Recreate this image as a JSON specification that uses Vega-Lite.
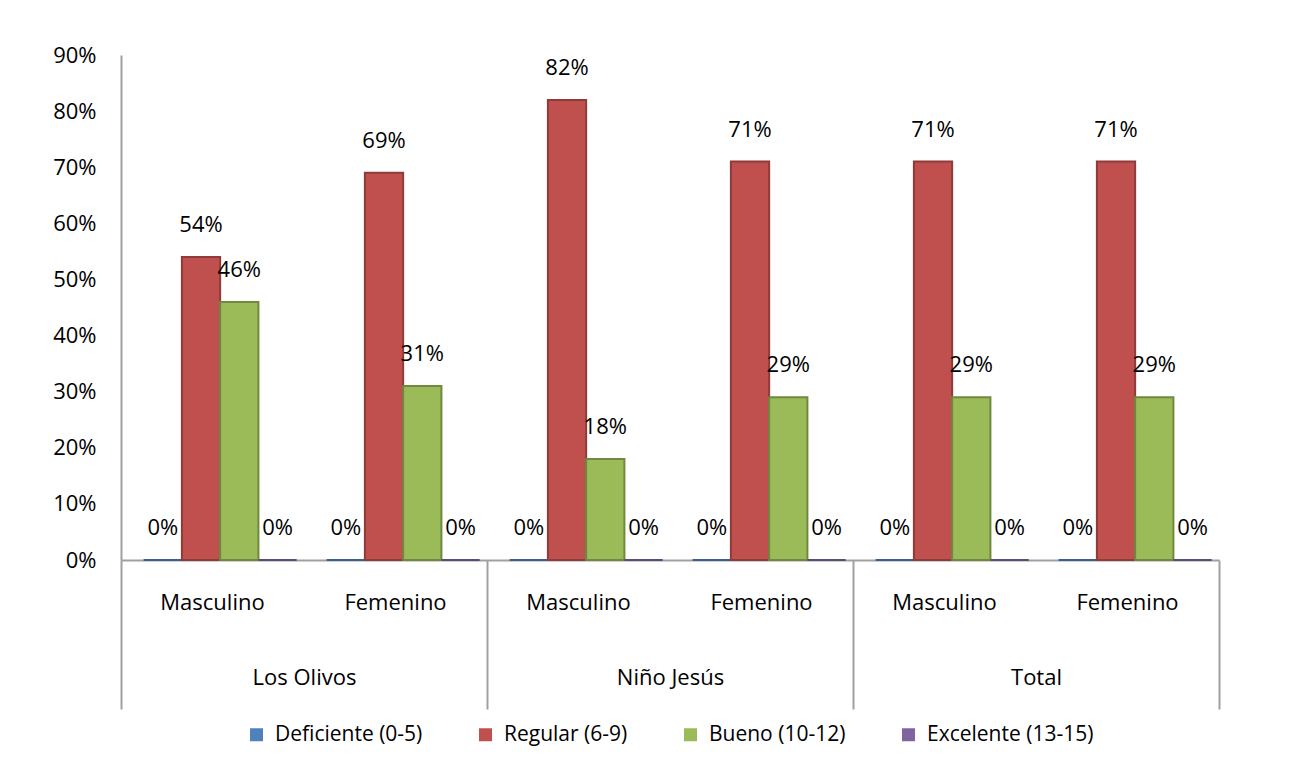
{
  "$schema": "https://vega.github.io/schema/vega-lite/v6.json",
  "width": 1098,
  "height": 505,
  "padding": {"left": 52, "top": 44, "right": 70, "bottom": 10},
  "config": {
    "view": {"stroke": null},
    "font": "Open Sans",
    "axis": {"labelColor": "#000000", "labelFontSize": 22, "labelFont": "Open Sans"},
    "legend": {"layout": {"bottom": {"anchor": "middle"}}}
  },
  "data": {
    "values": [
      {"grupo": "Los Olivos", "sexo": "Masculino", "barra": "Los Olivos|Masculino", "serie": "Deficiente (0-5)", "valor": 0},
      {"grupo": "Los Olivos", "sexo": "Masculino", "barra": "Los Olivos|Masculino", "serie": "Regular (6-9)", "valor": 0.54},
      {"grupo": "Los Olivos", "sexo": "Masculino", "barra": "Los Olivos|Masculino", "serie": "Bueno (10-12)", "valor": 0.46},
      {"grupo": "Los Olivos", "sexo": "Masculino", "barra": "Los Olivos|Masculino", "serie": "Excelente (13-15)", "valor": 0},
      {"grupo": "Los Olivos", "sexo": "Femenino", "barra": "Los Olivos|Femenino", "serie": "Deficiente (0-5)", "valor": 0},
      {"grupo": "Los Olivos", "sexo": "Femenino", "barra": "Los Olivos|Femenino", "serie": "Regular (6-9)", "valor": 0.69},
      {"grupo": "Los Olivos", "sexo": "Femenino", "barra": "Los Olivos|Femenino", "serie": "Bueno (10-12)", "valor": 0.31},
      {"grupo": "Los Olivos", "sexo": "Femenino", "barra": "Los Olivos|Femenino", "serie": "Excelente (13-15)", "valor": 0},
      {"grupo": "Niño Jesús", "sexo": "Masculino", "barra": "Niño Jesús|Masculino", "serie": "Deficiente (0-5)", "valor": 0},
      {"grupo": "Niño Jesús", "sexo": "Masculino", "barra": "Niño Jesús|Masculino", "serie": "Regular (6-9)", "valor": 0.82},
      {"grupo": "Niño Jesús", "sexo": "Masculino", "barra": "Niño Jesús|Masculino", "serie": "Bueno (10-12)", "valor": 0.18},
      {"grupo": "Niño Jesús", "sexo": "Masculino", "barra": "Niño Jesús|Masculino", "serie": "Excelente (13-15)", "valor": 0},
      {"grupo": "Niño Jesús", "sexo": "Femenino", "barra": "Niño Jesús|Femenino", "serie": "Deficiente (0-5)", "valor": 0},
      {"grupo": "Niño Jesús", "sexo": "Femenino", "barra": "Niño Jesús|Femenino", "serie": "Regular (6-9)", "valor": 0.71},
      {"grupo": "Niño Jesús", "sexo": "Femenino", "barra": "Niño Jesús|Femenino", "serie": "Bueno (10-12)", "valor": 0.29},
      {"grupo": "Niño Jesús", "sexo": "Femenino", "barra": "Niño Jesús|Femenino", "serie": "Excelente (13-15)", "valor": 0},
      {"grupo": "Total", "sexo": "Masculino", "barra": "Total|Masculino", "serie": "Deficiente (0-5)", "valor": 0},
      {"grupo": "Total", "sexo": "Masculino", "barra": "Total|Masculino", "serie": "Regular (6-9)", "valor": 0.71},
      {"grupo": "Total", "sexo": "Masculino", "barra": "Total|Masculino", "serie": "Bueno (10-12)", "valor": 0.29},
      {"grupo": "Total", "sexo": "Masculino", "barra": "Total|Masculino", "serie": "Excelente (13-15)", "valor": 0},
      {"grupo": "Total", "sexo": "Femenino", "barra": "Total|Femenino", "serie": "Deficiente (0-5)", "valor": 0},
      {"grupo": "Total", "sexo": "Femenino", "barra": "Total|Femenino", "serie": "Regular (6-9)", "valor": 0.71},
      {"grupo": "Total", "sexo": "Femenino", "barra": "Total|Femenino", "serie": "Bueno (10-12)", "valor": 0.29},
      {"grupo": "Total", "sexo": "Femenino", "barra": "Total|Femenino", "serie": "Excelente (13-15)", "valor": 0}
    ]
  },
  "layer": [
    {
      "layer": [
        {
          "mark": {"type": "bar", "strokeWidth": 2},
          "encoding": {
            "x": {
              "field": "barra", "type": "nominal", "sort": null,
              "scale": {"paddingInner": 0.08, "paddingOuter": 0.04},
              "axis": {"orient": "bottom", "title": null, "domain": false, "ticks": false, "labelAngle": 0,
                       "labelExpr": "split(datum.label, '|')[1]", "labelPadding": 32}
            },
            "xOffset": {"field": "serie", "type": "nominal",
                        "sort": ["Deficiente (0-5)", "Regular (6-9)", "Bueno (10-12)", "Excelente (13-15)"],
                        "scale": {"paddingInner": 0, "paddingOuter": 0.2, "align": 1}},
            "y": {
              "field": "valor", "type": "quantitative",
              "scale": {"domain": [0, 0.9], "nice": false},
              "axis": {"title": null, "format": ".0%", "values": [0, 0.1, 0.2, 0.3, 0.4, 0.5, 0.6, 0.7, 0.8, 0.9],
                       "grid": false, "ticks": false, "domainColor": "#A0A0A0", "domainWidth": 2, "labelPadding": 25}
            },
            "color": {
              "field": "serie", "type": "nominal",
              "scale": {"domain": ["Deficiente (0-5)", "Regular (6-9)", "Bueno (10-12)", "Excelente (13-15)"],
                        "range": ["#4F81BD", "#C0504D", "#9BBB59", "#8064A2"]},
              "legend": {"orient": "bottom", "direction": "horizontal", "title": null, "symbolType": "square",
                         "symbolSize": 169, "symbolStrokeWidth": 0, "labelFontSize": 21, "labelFont": "Open Sans",
                         "labelColor": "#000000", "labelLimit": 400, "columnPadding": 52, "labelOffset": 8, "offset": 14}
            },
            "stroke": {
              "field": "serie", "type": "nominal",
              "scale": {"domain": ["Deficiente (0-5)", "Regular (6-9)", "Bueno (10-12)", "Excelente (13-15)"],
                        "range": ["#3A6090", "#8E3B39", "#71893F", "#5E4A78"]},
              "legend": null
            }
          }
        },
        {
          "mark": {"type": "text", "dy": -32, "fontSize": 22, "color": "#000000", "font": "Open Sans"},
          "encoding": {
            "x": {"field": "barra", "type": "nominal", "sort": null},
            "xOffset": {"field": "serie", "type": "nominal",
                        "sort": ["Deficiente (0-5)", "Regular (6-9)", "Bueno (10-12)", "Excelente (13-15)"]},
            "y": {"field": "valor", "type": "quantitative"},
            "text": {"field": "valor", "type": "quantitative", "format": ".0%"}
          }
        }
      ]
    },
    {
      "mark": {"type": "text"},
      "encoding": {
        "x": {
          "field": "grupo", "type": "nominal", "sort": ["Los Olivos", "Niño Jesús", "Total"],
          "scale": {"paddingInner": 0, "paddingOuter": 0},
          "axis": {"orient": "bottom", "title": null, "tickBand": "extent", "tickSize": 149, "tickColor": "#A0A0A0",
                   "tickWidth": 2, "domainColor": "#A0A0A0", "domainWidth": 2, "labelPadding": -42, "labelAngle": 0}
        },
        "text": {"value": ""}
      }
    }
  ],
  "resolve": {"scale": {"x": "independent"}, "axis": {"x": "independent"}}
}
